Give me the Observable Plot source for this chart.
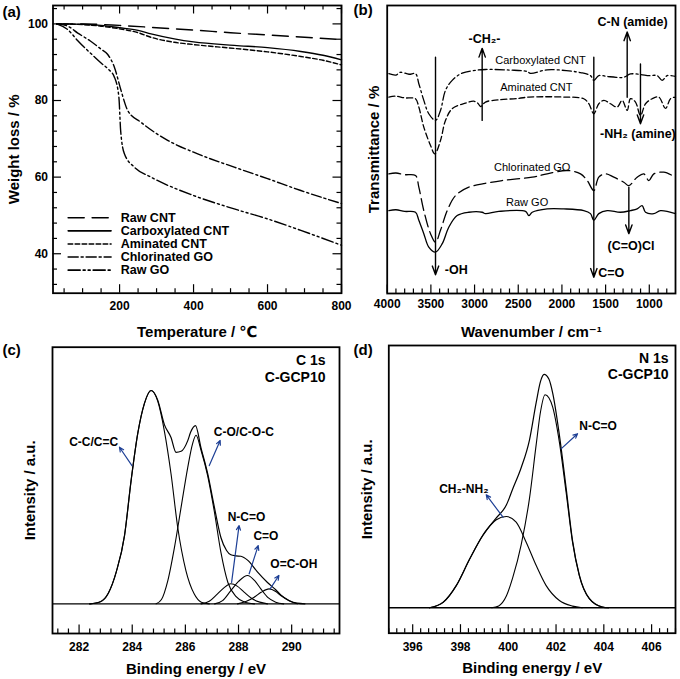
<!DOCTYPE html>
<html><head><meta charset="utf-8">
<script src="https://cdn.jsdelivr.net/npm/d3@7"></script>
<script src="https://cdn.jsdelivr.net/npm/@observablehq/plot@0.6"></script>
<style>
body{margin:0;background:#fff;}
#fig{position:relative;width:680px;height:679px;background:#fff;}
#fig > svg{position:absolute;}
</style></head><body><div id="fig"></div>
<script>
const FONT = "'Liberation Sans', Arial, 'DejaVu Sans', sans-serif";
const BLUE = "#1d3f95";

// ---------- (a) TGA ----------
const tgaSeries = ["Raw CNT","Carboxylated CNT","Aminated CNT","Chlorinated GO","Raw GO"];
const tgaRawCNT = [[30,100],[100,100],[200,99.6],[300,99.0],[400,98.4],[500,97.7],[600,97.1],[700,96.5],[800,95.9]];
const tgaCarbCNT = [[30,100],[100,99.9],[150,99.6],[200,99.0],[250,98.3],[285,97.4],[348,96.1],[400,95.3],[510,94.4],[600,93.8],[690,92.8],[750,91.8],[800,90.6]];
const tgaAminCNT = [[30,100],[100,99.8],[150,99.4],[200,98.7],[250,97.7],[285,96.5],[348,95.2],[400,94.6],[510,93.6],[600,92.7],[690,91.5],[750,90.5],[800,89.3]];
const tgaChlorGO = [[30,100],[60,99.4],[87,97.6],[120,95.6],[150,93.4],[168,92.0],[186,88.7],[204,82.6],[222,77.4],[258,74.3],[330,69.6],[400,66.5],[510,62.6],[600,59.6],[690,56.5],[800,53.1]];
const tgaRawGO = [[30,100],[60,98.5],[87,95.6],[132,91.4],[150,89.8],[168,88.3],[186,86.1],[198,81],[203,72],[213,66.1],[240,62.6],[285,60.0],[400,55.2],[510,51.7],[600,49.1],[690,46.1],[800,42.2]];
const tgaXLabels = [200,400,600,800];
const tgaYLabels = [40,60,80,100];

// ---------- (b) FTIR ----------
const ftirSeries = ["Carboxylated CNT","Aminated CNT","Chlorinated GO","Raw GO"];
const ftirCarbCNT = [[3981,75.5],[3900,75.0],[3850,76.0],[3750,75.3],[3676,75.5],[3638,71.9],[3581,65.9],[3524,61.1],[3447,58.7],[3390,62.3],[3333,69.5],[3256,73.1],[3142,75.7],[2989,76.7],[2875,77.0],[2600,76.8],[2400,76.3],[2360,75.6],[2169,76.9],[1950,76.6],[1787,75.9],[1673,74.8],[1635,73.1],[1578,74.8],[1482,74.5],[1380,74.2],[1292,74.2],[1215,75.4],[1101,75.2],[1000,74.8],[910,74.8],[853,73.1],[795,74.8],[700,74.5]];
const ftirAminCNT = [[3981,67.1],[3900,67.4],[3800,66.8],[3676,66.5],[3638,63.5],[3581,56.3],[3504,49.7],[3455,46.7],[3390,51.5],[3333,58.7],[3256,62.9],[3104,64.9],[3009,65.6],[2960,64.8],[2932,63.7],[2875,65.3],[2723,66.1],[2500,66.6],[2379,67.1],[2200,67.2],[1979,67.1],[1750,66.5],[1692,64.7],[1635,61.1],[1578,64.7],[1520,65.9],[1444,64.7],[1368,63.5],[1310,65.9],[1253,62.3],[1215,66.5],[1158,65.3],[1101,60.5],[1043,64.7],[967,66.5],[891,67.1],[814,63.0],[757,66.5],[700,67.1]];
const ftirChlorGO = [[3981,39.5],[3900,39.8],[3800,39.2],[3676,38.9],[3638,34.7],[3581,26.3],[3504,18.0],[3447,14.9],[3390,19.2],[3313,26.3],[3218,31.7],[3066,34.7],[2875,36.1],[2684,37.1],[2340,38.3],[2169,39.5],[1940,40.7],[1787,39.5],[1711,37.1],[1635,33.5],[1578,38.3],[1501,39.5],[1406,38.3],[1292,36.5],[1234,35.3],[1139,38.3],[1063,39.5],[1005,37.1],[948,39.5],[834,40.1],[700,38.3]];
const ftirRawGO = [[3981,26.3],[3900,26.6],[3800,26.0],[3676,25.7],[3638,22.8],[3581,18.0],[3524,13.2],[3447,11.4],[3370,14.4],[3295,20.3],[3199,24.5],[3066,25.7],[2913,25.7],[2875,25.2],[2723,26.0],[2417,26.0],[2379,24.5],[2340,25.7],[2169,26.9],[1979,26.9],[1750,26.3],[1673,25.2],[1635,22.8],[1578,25.2],[1482,26.3],[1330,25.7],[1215,26.3],[1139,26.9],[1082,28.1],[1043,25.7],[948,25.2],[872,26.3],[700,25.2]];
const ftirXLabels = [4000,3500,3000,2500,2000,1500,1000];

// ---------- (c) XPS C 1s ----------
const c1sNames = ["C-C/C=C","C-O/C-O-C","N-C=O","C=O","O=C-OH"];
const c1sCC = [[282.4,0],[282.8,1],[283.1,5],[283.4,15],[283.71,32],[283.96,58],[284.21,80],[284.46,94],[284.71,100],[284.96,95],[285.21,81],[285.46,61],[285.71,36],[286.02,15.6],[286.33,4.7],[286.6,0.8],[286.9,0]];
const c1sCO = [[284.9,0],[285.1,2],[285.34,10.9],[285.59,26.5],[285.84,45.3],[286.09,64],[286.27,75],[286.4,79],[286.59,72],[286.84,60],[287.08,44],[287.34,24],[287.6,10],[287.9,3.5],[288.2,1],[288.6,0]];
const c1sNCO = [[286.59,0],[286.9,1.2],[287.21,4.7],[287.45,7.5],[287.71,9.4],[287.95,8.3],[288.21,5.5],[288.5,2.5],[288.8,0.8],[289.09,0]];
const c1sCdO = [[287.1,0],[287.4,1.5],[287.71,6.2],[288.0,10.5],[288.34,13.3],[288.6,11],[288.84,7],[289.1,3],[289.4,0.8],[289.7,0]];
const c1sOCOH = [[287.96,0],[288.3,1.2],[288.59,3.1],[288.85,5.4],[289.15,7.0],[289.4,5.8],[289.59,3.9],[289.9,1.5],[290.21,0]];
const c1sEnv = [[282.4,0],[282.8,1],[283.1,5],[283.4,15],[283.71,32],[283.96,58],[284.21,80],[284.46,94],[284.71,100],[284.96,95.5],[285.21,84],[285.46,78],[285.65,71],[285.84,71.5],[286.09,76.5],[286.2,80.5],[286.38,83.5],[286.59,73],[286.84,61],[287.08,46],[287.34,31],[287.55,25],[287.71,23],[287.9,22.5],[288.09,22.3],[288.34,20.5],[288.71,15],[289.09,10],[289.4,6.6],[289.59,4.2],[289.9,1.6],[290.21,0.3],[290.5,0]];
const c1sXLabels = [282,284,286,288,290];
const c1sCorner = ["C 1s","C-GCP10"];

// ---------- (d) XPS N 1s ----------
const n1sNames = ["N-C=O","CH₂-NH₂"];
const n1sNCO = [[399.3,0],[399.6,0.8],[399.92,5],[400.19,13],[400.54,27],[400.89,47],[401.17,70],[401.35,84],[401.54,91.3],[401.7,90],[401.86,86],[402.14,71],[402.42,49.6],[402.69,28.1],[402.97,13.9],[403.39,3.9],[403.94,0.3],[404.2,0]];
const n1sCH2 = [[396.7,0],[397.28,2.4],[397.83,9.6],[398.39,21],[398.94,31],[399.5,37.7],[399.92,39.1],[400.33,36.7],[400.75,28.1],[401.17,18.1],[401.58,9.6],[402.14,3.1],[402.69,0.7],[403.1,0]];
const n1sEnv = [[396.7,0],[397.28,2.4],[397.83,9.6],[398.39,21],[398.94,31.2],[399.5,38.5],[399.92,44],[400.19,51],[400.54,60],[400.89,72],[401.17,88],[401.35,97],[401.5,100],[401.7,98],[401.86,92],[402.14,74],[402.42,51.5],[402.69,28.8],[402.97,14.2],[403.39,4],[403.94,0.3],[404.2,0]];
const n1sXLabels = [396,398,400,402,404,406];
const n1sCorner = ["N 1s","C-GCP10"];

// ---------- helpers ----------
function frameDims(o){ o.fw = o.w - o.ml - o.mr; o.fh = o.h - o.mt - o.mb; return o; }
function ticksB(vals, len, f){ return Plot.tickX(vals, {x: d => d, insetTop: f.fh - len, strokeWidth: 1.2}); }
function ticksT(vals, len, f){ return Plot.tickX(vals, {x: d => d, insetBottom: f.fh - len, strokeWidth: 1.2}); }
function ticksL(vals, len, f){ return Plot.tickY(vals, {y: d => d, insetRight: f.fw - len, strokeWidth: 1.2}); }
function ticksR(vals, len, f){ return Plot.tickY(vals, {y: d => d, insetLeft: f.fw - len, strokeWidth: 1.2}); }
const isIn = (arr, v) => arr.some(a => Math.abs(a - v) < 1e-6);
function base(f, x, y, marks){
  return Plot.plot({
    width: f.w, height: f.h, marginLeft: f.ml, marginTop: f.mt, marginRight: f.mr, marginBottom: f.mb,
    style: {fontFamily: FONT, overflow: "visible", background: "transparent", color: "#000"},
    x, y, marks
  });
}
const bold = {fontWeight: "bold", fill: "#000"};
function title(txt, dy){ return Plot.text([txt], {frameAnchor: "bottom", textAnchor: "middle", lineAnchor: "middle", dy, fontSize: 15, ...bold}); }
function ytitle(txt, dx){ return Plot.text([txt], {frameAnchor: "left", textAnchor: "middle", lineAnchor: "middle", rotate: -90, dx, fontSize: 15, ...bold}); }
function letter(txt, dx, dy){ return Plot.text([txt], {frameAnchor: "top-left", textAnchor: "start", lineAnchor: "middle", dx, dy, fontSize: 15, ...bold}); }
function corner(lines, dx, dys){ return lines.map((t, i) => Plot.text([t], {frameAnchor: "top-right", textAnchor: "end", lineAnchor: "middle", dx, dy: dys[i], fontSize: 14, ...bold})); }
function xlabels(vals, pad){ return Plot.axisX(vals, {anchor: "bottom", tickSize: 0, tickPadding: pad, fontSize: 12, fontWeight: "bold", tickFormat: d => String(d), label: null}); }
const fig = document.getElementById("fig");
function place(svg, left, top){ svg.style.left = left + "px"; svg.style.top = top + "px"; fig.appendChild(svg); }

// ---------- panel (a) ----------
const fa = frameDims({w: 345, h: 340, ml: 52.5, mt: 5, mr: 4, mb: 47.3});
const tgaData = [tgaRawCNT, tgaCarbCNT, tgaAminCNT, tgaChlorGO, tgaRawGO];
const tgaDash = ["16,8", null, "4.5,2.5", "10,3,2,3", "12,3,2,3,2,3"];
const aXMinor = d3.range(50, 800, 50).filter(v => !isIn(tgaXLabels, v));
const aYAll = d3.range(32, 105, 4);
const aYMinor = aYAll.filter(v => !isIn(tgaYLabels, v));
const legendRows = tgaSeries.map((s, i) => ({s, i, y: 49.4 - i * 3.42}));
const plotA = base(fa, {domain: [20, 800]}, {domain: [29.7, 104.8]}, [
  ticksB(aXMinor, 4.5, fa), ticksB(tgaXLabels, 8.5, fa),
  ticksT(aXMinor, 4.5, fa), ticksT(tgaXLabels, 8.5, fa),
  ticksL(aYMinor, 4.5, fa), ticksL(tgaYLabels, 8.5, fa),
  ticksR(aYMinor, 4.5, fa), ticksR(tgaYLabels, 8.5, fa),
  ...tgaData.map((arr, i) => Plot.line(arr, {x: d => d[0], y: d => d[1], stroke: "#000", strokeWidth: 1.4, strokeDasharray: tgaDash[i], curve: "monotone-x"})),
  ...legendRows.map(r => Plot.line([[61, r.y], [177, r.y]], {x: d => d[0], y: d => d[1], stroke: "#000", strokeWidth: 1.6, strokeDasharray: tgaDash[r.i]})),
  Plot.text(legendRows, {x: () => 203, y: "y", text: "s", textAnchor: "start", fontSize: 12.5, ...bold}),
  xlabels(tgaXLabels, 8),
  Plot.axisY(tgaYLabels, {anchor: "left", tickSize: 0, tickPadding: 5, fontSize: 12, fontWeight: "bold", label: null}),
  title("Temperature / ℃", 39),
  ytitle("Weight loss / %", -39),
  letter("(a)", -50.5, 6.7),
  Plot.frame({stroke: "#000", strokeWidth: 1.8})
]);
place(plotA, 0, 0);

// ---------- panel (b) ----------
const fb = frameDims({w: 335, h: 340, ml: 41.7, mt: 5, mr: 5, mb: 47});
const ftirData = [ftirCarbCNT, ftirAminCNT, ftirChlorGO, ftirRawGO];
const ftirDash = ["9,3,2,3", "6,3", "12,5", null];
const bMinor = d3.range(800, 4000, 100).filter(v => v % 500 !== 0);
const bMajor = d3.range(1000, 4001, 500);
const ftirLabelPos = [[2245, 80.2], [2293, 70.5], [2340, 41.9], [2398, 29.3]];
const bArrows = [
  {x: 3447, y1: 81.4, y2: 3.2},
  {x: 2913, y1: 58.7, y2: 84.6},
  {x: 1635, y1: 81.4, y2: 2.3},
  {x: 1253, y1: 67.0, y2: 90.5},
  {x: 1101, y1: 79.0, y2: 57.5},
  {x: 1234, y1: 34.7, y2: 18.0}
];
const bNotesStart = [
  {t: "-OH", x: 3340, y: 5.0},
  {t: "C=O", x: 1585, y: 4.0}
];
const bNotesMid = [
  {t: "-CH₂-", x: 2886, y: 88.0},
  {t: "C-N (amide)", x: 1192, y: 94.0},
  {t: "-NH₂ (amine)", x: 1130, y: 53.9},
  {t: "(C=O)Cl", x: 1210, y: 13.4}
];
const plotB = base(fb, {domain: [4000, 700]}, {domain: [-3.5, 100], axis: null}, [
  ticksB(bMinor, 4.5, fb), ticksB(bMajor, 8.5, fb),
  ...ftirData.map((arr, i) => Plot.line(arr, {x: d => d[0], y: d => d[1], stroke: "#000", strokeWidth: 1.3, strokeDasharray: ftirDash[i], curve: "catmull-rom"})),
  Plot.text(ftirSeries, {x: (d, i) => ftirLabelPos[i][0], y: (d, i) => ftirLabelPos[i][1], text: d => d, fontSize: 11, fill: "#000"}),
  Plot.arrow(bArrows, {x1: "x", x2: "x", y1: "y1", y2: "y2", stroke: "#000", strokeWidth: 1.4, headLength: 10, headAngle: 40}),
  Plot.text(bNotesStart, {x: "x", y: "y", text: "t", textAnchor: "start", fontSize: 12.5, ...bold}),
  Plot.text(bNotesMid, {x: "x", y: "y", text: "t", textAnchor: "middle", fontSize: 12.5, ...bold}),
  xlabels(ftirXLabels, 6),
  title("Wavenumber / cm⁻¹", 38.7),
  ytitle("Transmittance / %", -13.4),
  letter("(b)", -33.7, 5),
  Plot.frame({stroke: "#000", strokeWidth: 1.8})
]);
place(plotB, 345, 0);

// ---------- panel (c) ----------
const fc = frameDims({w: 345, h: 339, ml: 52, mt: 6.7, mr: 6, mb: 46});
const cAll = d3.range(2812, 2918, 4).map(v => v / 10);
const cMinor = cAll.filter(v => !isIn(c1sXLabels, v));
const c1sComps = [c1sCC, c1sCO, c1sNCO, c1sCdO, c1sOCOH];
const cArrows = [
  {x1: 283.99, y1: 64.8, x2: 283.52, y2: 73.4},
  {x1: 286.9, y1: 64.8, x2: 287.31, y2: 76.6},
  {x1: 287.74, y1: 10.1, x2: 288.02, y2: 36.7},
  {x1: 288.4, y1: 14.1, x2: 288.74, y2: 27.3},
  {x1: 289.19, y1: 7.0, x2: 289.52, y2: 13.3}
];
const cLabelPos = [[282.55, 75.8], [288.2, 80.4], [288.3, 40.6], [289.03, 31.5], [290.08, 18.8]];
const plotC = base(fc, {domain: [281, 291.8]}, {domain: [-13.9, 120.3], axis: null}, [
  ticksB(cMinor, 4.5, fc), ticksB(c1sXLabels, 8.5, fc),
  Plot.ruleY([0], {stroke: "#000", strokeWidth: 1.3}),
  ...c1sComps.map(arr => Plot.line(arr, {x: d => d[0], y: d => d[1], stroke: "#000", strokeWidth: 1.1, curve: "monotone-x"})),
  Plot.line(c1sEnv, {x: d => d[0], y: d => d[1], stroke: "#000", strokeWidth: 1.2, curve: "monotone-x"}),
  Plot.arrow(cArrows, {x1: "x1", y1: "y1", x2: "x2", y2: "y2", stroke: BLUE, strokeWidth: 1.2, headLength: 6, headAngle: 50}),
  Plot.text(c1sNames, {x: (d, i) => cLabelPos[i][0], y: (d, i) => cLabelPos[i][1], text: d => d, fontSize: 12, ...bold}),
  ...corner(c1sCorner, -14, [13.3, 30]),
  xlabels(c1sXLabels, 9.4),
  title("Binding energy / eV", 35.3),
  ytitle("Intensity / a.u.", -22),
  letter("(c)", -50, 3.3),
  Plot.frame({stroke: "#000", strokeWidth: 1.8})
]);
place(plotC, 0, 340);

// ---------- panel (d) ----------
const fd = frameDims({w: 335, h: 339, ml: 43.3, mt: 5, mr: 5, mb: 46.3});
const dAll = d3.range(0, 37).map(k => 395 + k / 3);
const dMinor = dAll.filter(v => !isIn(n1sXLabels, v));
const dArrows = [
  {x1: 402.21, y1: 68.1, x2: 402.9, y2: 74.6},
  {x1: 399.78, y1: 38.8, x2: 399.08, y2: 48.4}
];
const plotD = base(fd, {domain: [395, 407]}, {domain: [-10.9, 112.4], axis: null}, [
  ticksB(dMinor, 4.5, fd), ticksB(n1sXLabels, 8.5, fd),
  Plot.ruleY([0], {stroke: "#000", strokeWidth: 1.3}),
  Plot.line(n1sNCO, {x: d => d[0], y: d => d[1], stroke: "#000", strokeWidth: 1.1, curve: "monotone-x"}),
  Plot.line(n1sCH2, {x: d => d[0], y: d => d[1], stroke: "#000", strokeWidth: 1.1, curve: "monotone-x"}),
  Plot.line(n1sEnv, {x: d => d[0], y: d => d[1], stroke: "#000", strokeWidth: 1.2, curve: "monotone-x"}),
  Plot.arrow(dArrows, {x1: "x1", y1: "y1", x2: "x2", y2: "y2", stroke: BLUE, strokeWidth: 1.2, headLength: 6, headAngle: 50}),
  Plot.text([n1sNames[0]], {x: () => 402.97, y: () => 77.8, text: d => d, textAnchor: "start", fontSize: 12, ...bold}),
  Plot.text([n1sNames[1]], {x: () => 398.14, y: () => 50.7, text: d => d, textAnchor: "middle", fontSize: 12, ...bold}),
  ...corner(n1sCorner, -7, [13.3, 29.3]),
  xlabels(n1sXLabels, 9.7),
  title("Binding energy / eV", 35.3),
  ytitle("Intensity / a.u.", -21.6),
  letter("(d)", -35.3, 5),
  Plot.frame({stroke: "#000", strokeWidth: 1.8})
]);
place(plotD, 345, 340);
</script></body></html>
